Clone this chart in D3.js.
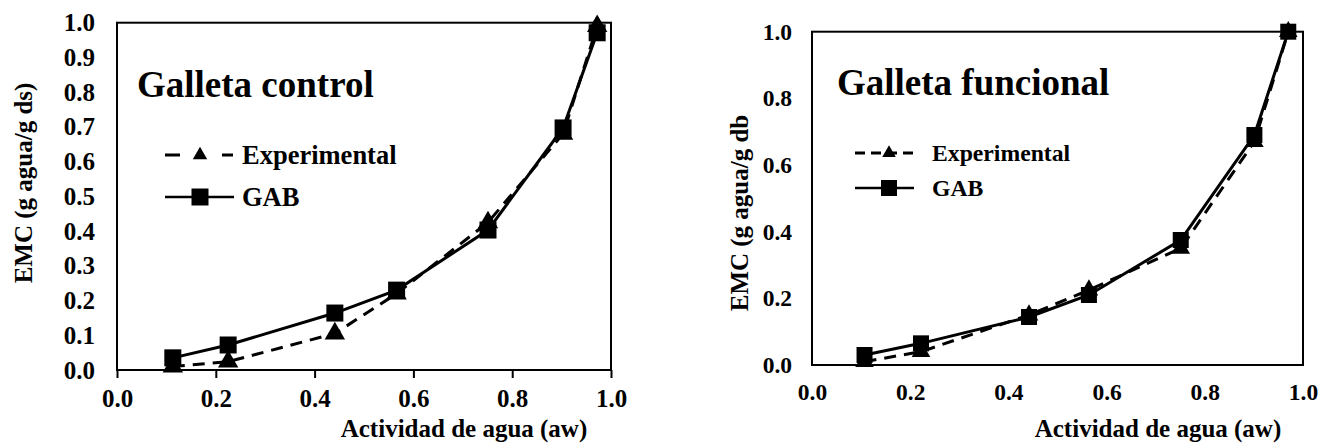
<!DOCTYPE html>
<html>
<head>
<meta charset="utf-8">
<script src="https://cdn.jsdelivr.net/npm/d3@7"></script>
<style>
  body { margin: 0; background: #fff; }
</style>
</head>
<body>
<div id="chart"></div>
<script>
var FONT = "'Liberation Serif'";

// Galleta control
var awControl = [0.113, 0.225, 0.441, 0.566, 0.751, 0.903, 0.972];
var expControl = [0.01, 0.024, 0.105, 0.22, 0.425, 0.68, 0.99];
var gabControl = [0.035, 0.072, 0.164, 0.23, 0.403, 0.697, 0.971];

// Galleta funcional
var awFunc = [0.107, 0.222, 0.442, 0.564, 0.751, 0.901, 0.97];
var expFunc = [0.01, 0.04, 0.15, 0.225, 0.35, 0.67, 1.0];
var gabFunc = [0.03, 0.065, 0.144, 0.21, 0.375, 0.69, 1.0];

var xTicks = [0, 0.2, 0.4, 0.6, 0.8, 1.0];
var yTicksControl = [0, 0.1, 0.2, 0.3, 0.4, 0.5, 0.6, 0.7, 0.8, 0.9, 1.0];
var yTicksFunc = [0, 0.2, 0.4, 0.6, 0.8, 1.0];

var svg = d3.select("#chart").append("svg")
    .attr("width", 1321).attr("height", 444);

function txt(sel, size) {
    return sel.attr("font-family", null)
        .style("font-family", FONT).style("font-weight", "bold")
        .style("font-size", size + "px").attr("fill", "#000");
}

function drawChart(o) {
    var x = d3.scaleLinear().domain([0, 1]).range([o.left, o.right]);
    var y = d3.scaleLinear().domain([0, 1]).range([o.bottom, o.top]);
    var g = svg.append("g");

    // frame
    g.append("rect").attr("x", o.left).attr("y", o.top)
        .attr("width", o.right - o.left).attr("height", o.bottom - o.top)
        .attr("fill", "none").attr("stroke", "#000").attr("stroke-width", 2);

    var xAxis = d3.axisBottom(x).tickValues(xTicks).tickFormat(d3.format(".1f"))
        .tickSize(o.xTick).tickSizeOuter(0);
    var gx = g.append("g").attr("transform", "translate(0," + o.bottom + ")").call(xAxis);
    gx.attr("font-family", null);
    gx.select(".domain").remove();
    gx.selectAll("line").attr("stroke-width", 2);
    txt(gx.selectAll("text").attr("dy", null).attr("y", o.xLabelY), o.tickFont);

    var yAxis = d3.axisLeft(y).tickValues(o.yTicks).tickFormat(d3.format(".1f"))
        .tickSize(0).tickPadding(o.yPad);
    var gy = g.append("g").attr("transform", "translate(" + o.left + ",0)").call(yAxis);
    gy.attr("font-family", null);
    gy.select(".domain").remove();
    txt(gy.selectAll("text"), o.tickFont);

    // axis titles
    txt(g.append("text").attr("x", o.xTitleX).attr("y", o.xTitleY)
        .attr("text-anchor", "middle"), o.titleFont)
        .text("Actividad de agua (aw)");
    txt(g.append("text").attr("transform", "translate(" + o.yTitleX + "," + o.yTitleY + ") rotate(-90)")
        .attr("text-anchor", "middle"), o.titleFont)
        .text(o.yTitle);

    // chart label
    txt(g.append("text").attr("x", o.nameX).attr("y", o.nameY), o.nameFont).text(o.name);

    var line = d3.line().x(function(d) { return x(d[0]); }).y(function(d) { return y(d[1]); });
    var expPts = d3.zip(o.aw, o.exp);
    var gabPts = d3.zip(o.aw, o.gab);

    g.append("path").datum(expPts).attr("d", line).attr("fill", "none")
        .attr("stroke", "#000").attr("stroke-width", 3).attr("stroke-dasharray", "12,8");
    g.selectAll(".tri").data(expPts).enter().append("path")
        .attr("transform", function(d) { return "translate(" + x(d[0]) + "," + y(d[1]) + ")"; })
        .attr("d", d3.symbol().type(d3.symbolTriangle).size(o.triSize)());

    g.append("path").datum(gabPts).attr("d", line).attr("fill", "none")
        .attr("stroke", "#000").attr("stroke-width", 3);
    g.selectAll(".sq").data(gabPts).enter().append("rect")
        .attr("x", function(d) { return x(d[0]) - o.sq / 2; })
        .attr("y", function(d) { return y(d[1]) - o.sq / 2; })
        .attr("width", o.sq).attr("height", o.sq);

    // legend
    var L = o.legend;
    g.append("line").attr("x1", L.x1).attr("x2", L.x2).attr("y1", L.y1).attr("y2", L.y1)
        .attr("stroke", "#000").attr("stroke-width", 3).attr("stroke-dasharray", L.dash);
    g.append("path").attr("transform", "translate(" + L.mx + "," + L.y1 + ")")
        .attr("d", d3.symbol().type(d3.symbolTriangle).size(L.tri)());
    txt(g.append("text").attr("x", L.tx).attr("y", L.y1).attr("dy", "0.35em"), L.font)
        .text("Experimental");
    g.append("line").attr("x1", L.x1).attr("x2", L.x2 + 1).attr("y1", L.y2).attr("y2", L.y2)
        .attr("stroke", "#000").attr("stroke-width", 2.5);
    g.append("rect").attr("x", L.mx - L.sq / 2).attr("y", L.y2 - L.sq / 2)
        .attr("width", L.sq).attr("height", L.sq);
    txt(g.append("text").attr("x", L.tx).attr("y", L.y2).attr("dy", "0.35em"), L.font)
        .text("GAB");
}

drawChart({
    left: 117, right: 611, top: 22.7, bottom: 370,
    yTicks: yTicksControl, tickFont: 25, yPad: 22, xLabelY: 37, xTick: 8,
    aw: awControl, exp: expControl, gab: gabControl,
    titleFont: 25, xTitleX: 464, xTitleY: 437, yTitleX: 32, yTitleY: 183,
    yTitle: "EMC (g agua/g ds)",
    name: "Galleta control", nameX: 137, nameY: 97, nameFont: 37,
    triSize: 180, sq: 17,
    legend: { x1: 165, x2: 233, mx: 200, y1: 155, y2: 197, tx: 242, font: 26.5,
              dash: "15,42", tri: 90, sq: 17 }
});

drawChart({
    left: 812, right: 1303, top: 31.7, bottom: 365,
    yTicks: yTicksFunc, tickFont: 23.5, yPad: 20, xLabelY: 35, xTick: 0,
    aw: awFunc, exp: expFunc, gab: gabFunc,
    titleFont: 25, xTitleX: 1158, xTitleY: 437, yTitleX: 748, yTitleY: 213,
    yTitle: "EMC (g agua/g db",
    name: "Galleta funcional", nameX: 837, nameY: 95, nameFont: 37,
    triSize: 150, sq: 16,
    legend: { x1: 855, x2: 913, mx: 889, y1: 153, y2: 188, tx: 932, font: 23.7,
              dash: "10,6", tri: 80, sq: 16 }
});
</script>
</body>
</html>
